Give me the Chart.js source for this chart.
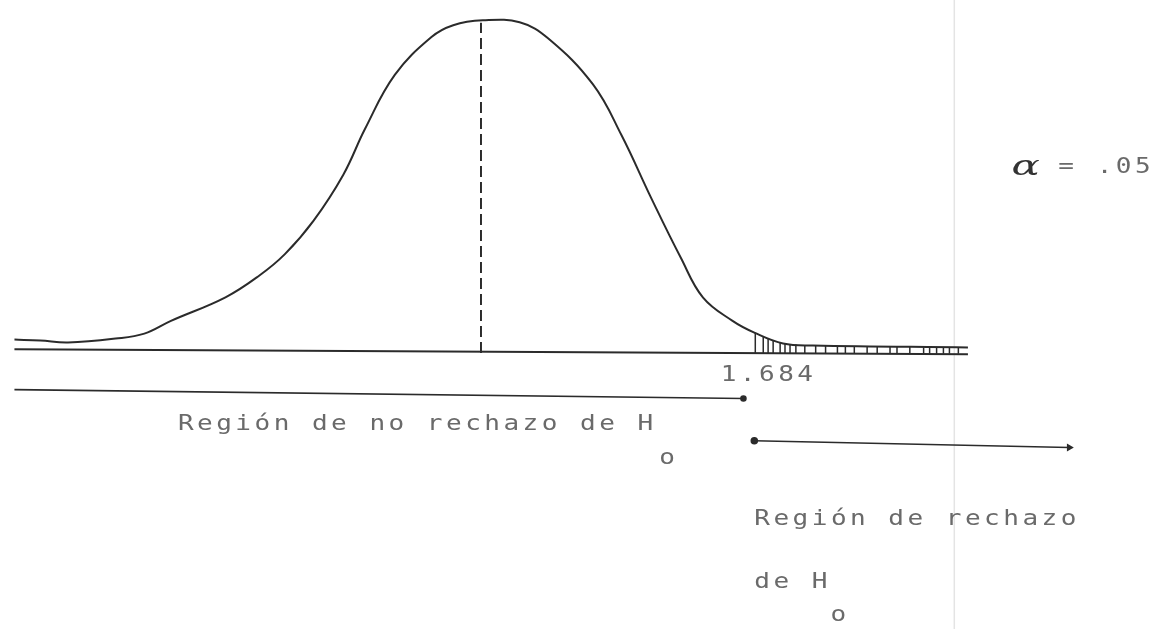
<!DOCTYPE html>
<html>
<head>
<meta charset="utf-8">
<script src="https://cdn.jsdelivr.net/npm/chart.js@4.4.1/dist/chart.umd.min.js"></script>
<style>
  html, body { margin: 0; padding: 0; background: #ffffff; }
  #wrap { width: 1162px; height: 629px; position: relative; }
</style>
</head>
<body>
<div id="wrap"><canvas id="c"></canvas></div>
<script>
// ---- data (t-value on x, density-like height on y) ----
const curveX = [-2.874, -2.715, -2.544, -2.251, -2.074, -1.910, -1.574, -1.367, -1.208, -1.031, -0.848, -0.714, -0.531, -0.305, -0.171, 0.012, 0.238, 0.415, 0.689, 0.866, 1.049, 1.232, 1.367, 1.550, 1.684, 1.861, 2.044, 3.000];
const curveY = [0.0142, 0.0130, 0.0107, 0.0154, 0.0214, 0.0368, 0.0653, 0.0914, 0.1175, 0.1580, 0.2135, 0.2690, 0.3340, 0.3798, 0.3941, 0.4000, 0.3976, 0.3780, 0.3228, 0.2611, 0.1852, 0.1128, 0.0653, 0.0368, 0.0226, 0.0095, 0.0071, 0.0047];

const axisX = [-2.874, 3.000];
const axisY = [0.0024, -0.0036];

const meanX = [0, 0];
const meanY = [-0.002, 0.397];

const criticalValue = 1.684;
const hatchX = [1.690, 1.739, 1.769, 1.800, 1.843, 1.873, 1.904, 1.940, 1.995, 2.062, 2.123, 2.196, 2.245, 2.300, 2.379, 2.441, 2.520, 2.563, 2.642, 2.727, 2.764, 2.807, 2.849, 2.886, 2.941];
const hatchTop = [0.0226, 0.0178, 0.0154, 0.0131, 0.0107, 0.0095, 0.0083, 0.0083, 0.0071, 0.0071, 0.0065, 0.0065, 0.0062, 0.0060, 0.0059, 0.0057, 0.0055, 0.0054, 0.0052, 0.0050, 0.0050, 0.0049, 0.0048, 0.0048, 0.0047];
const hatchBottom = -0.003;

const noRejectX = [-2.874, 1.617];
const noRejectY = [-0.0463, -0.0570];

const rejectX = [1.684, 3.624];
const rejectY = [-0.1080, -0.1163];

const gridLineX = [2.916, 2.916];
const gridLineY = [0.46, -0.36];

const labelTexts = ["Región de no rechazo de H", "o", "Región de rechazo", "de H", "o", "1.684", "= .05"];
const labelX     = [-1.867, 1.098, 1.684, 1.684, 2.154, 1.477, 3.557];
const labelY     = [-0.0890, -0.1294, -0.2030, -0.2790, -0.3193, -0.0297, 0.2220];
const alphaText = "α";
const alphaX = 3.356, alphaY = 0.2220;

// ---- build ----
const pts = (xs, ys) => xs.map((x, i) => ({x: x, y: ys[i]}));
const hatchPts = [];
hatchX.forEach((x, i) => {
  hatchPts.push({x: x, y: hatchBottom});
  hatchPts.push({x: x, y: hatchTop[i]});
  hatchPts.push({x: x, y: null});
});

const SX = 1.24; // horizontal stretch to imitate the wide dot-matrix glyphs
const textPlugin = {
  id: 'texts',
  afterDraw(chart) {
    const ctx = chart.ctx;
    const xs = chart.scales.x, ys = chart.scales.y;
    ctx.save();
    ctx.scale(SX, 1);
    ctx.font = '21px "DejaVu Sans Mono"';
    ctx.letterSpacing = '2.8px';
    ctx.fillStyle = '#6a6a6a';
    ctx.textAlign = 'left';
    ctx.textBaseline = 'middle';
    labelTexts.forEach((t, i) => {
      ctx.fillText(t, xs.getPixelForValue(labelX[i]) / SX, ys.getPixelForValue(labelY[i]));
    });
    ctx.restore();
    ctx.save();
    ctx.scale(1.5, 1);
    ctx.font = 'italic 28px "DejaVu Serif"';
    ctx.fillStyle = '#333333';
    ctx.textAlign = 'center';
    ctx.textBaseline = 'middle';
    ctx.fillText(alphaText, xs.getPixelForValue(alphaX) / 1.5, ys.getPixelForValue(alphaY));
    ctx.restore();
  }
};

const dark = '#2b2b2b';
new Chart(document.getElementById('c'), {
  type: 'line',
  data: {
    datasets: [
      { data: pts(gridLineX, gridLineY), borderColor: '#e4e4e4', borderWidth: 1.5, pointRadius: 0, order: 10, clip: false },
      { data: pts(curveX, curveY), borderColor: dark, borderWidth: 2, pointRadius: 0, tension: 0.4 },
      { data: pts(axisX, axisY), borderColor: dark, borderWidth: 2, pointRadius: 0 },
      { data: pts(meanX, meanY), borderColor: dark, borderWidth: 2, borderDash: [11, 5], pointRadius: 0 },
      { data: hatchPts, borderColor: dark, borderWidth: 1.5, pointRadius: 0, spanGaps: false },
      { data: pts(noRejectX, noRejectY), borderColor: dark, borderWidth: 1.6, pointRadius: [0, 2.5], pointBackgroundColor: dark, pointBorderColor: dark },
      { data: pts(rejectX, rejectY), borderColor: dark, borderWidth: 1.6, pointRadius: [3, 3], pointStyle: ['circle', 'triangle'], pointRotation: [0, 90], pointBackgroundColor: dark, pointBorderColor: dark }
    ]
  },
  options: {
    responsive: true,
    maintainAspectRatio: false,
    animation: false,
    layout: { padding: 0 },
    plugins: { legend: { display: false }, tooltip: { enabled: false } },
    scales: {
      x: { type: 'linear', display: false, min: -2.9286, max: 4.1611 },
      y: { type: 'linear', display: false, min: -0.32878, max: 0.41780 }
    }
  },
  plugins: [textPlugin]
});
</script>
</body>
</html>
